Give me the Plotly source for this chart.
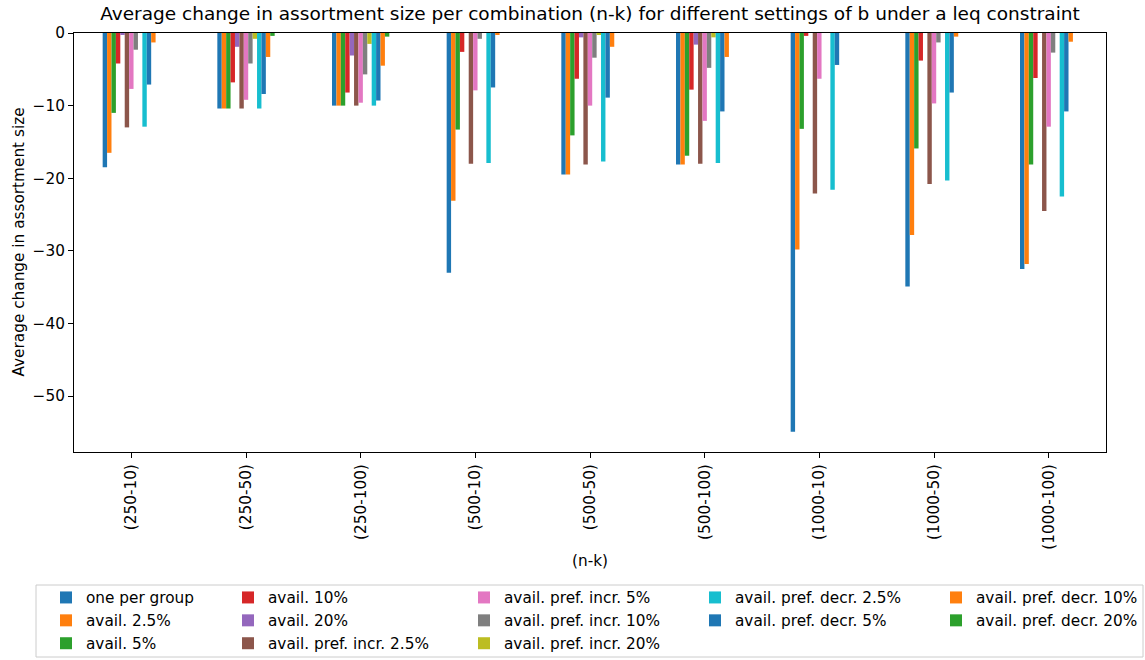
import plotly.graph_objects as go

categories = ["(250-10)", "(250-50)", "(250-100)", "(500-10)", "(500-50)",
              "(500-100)", "(1000-10)", "(1000-50)", "(1000-100)"]

series_names = ["one per group", "avail. 2.5%", "avail. 5%", "avail. 10%", "avail. 20%",
                "avail. pref. incr. 2.5%", "avail. pref. incr. 5%", "avail. pref. incr. 10%",
                "avail. pref. incr. 20%", "avail. pref. decr. 2.5%", "avail. pref. decr. 5%",
                "avail. pref. decr. 10%", "avail. pref. decr. 20%"]

one_per_group = [-18.5, -10.4, -10.0, -33.0, -19.5, -18.1, -54.9, -34.9, -32.5]
avail_2_5 = [-16.5, -10.4, -10.0, -23.1, -19.5, -18.1, -29.8, -27.8, -31.8]
avail_5 = [-11.0, -10.4, -10.0, -13.3, -14.1, -16.9, -13.2, -15.9, -18.1]
avail_10 = [-4.2, -6.8, -8.2, -2.6, -6.3, -7.8, -0.4, -3.8, -6.2]
avail_20 = [-0.2, -1.9, -3.1, 0.0, -0.6, -1.6, 0.0, 0.0, 0.0]
pref_incr_2_5 = [-13.0, -10.4, -10.0, -18.0, -18.1, -18.0, -22.1, -20.8, -24.5]
pref_incr_5 = [-7.7, -9.2, -9.6, -7.9, -10.0, -12.1, -6.3, -9.7, -12.9]
pref_incr_10 = [-2.3, -4.2, -5.7, -0.8, -3.4, -4.8, 0.0, -1.3, -2.7]
pref_incr_20 = [0.0, -0.8, -1.5, 0.0, -0.2, -0.6, 0.0, 0.0, 0.0]
pref_decr_2_5 = [-12.9, -10.4, -10.0, -17.9, -17.7, -17.9, -21.6, -20.3, -22.5]
pref_decr_5 = [-7.1, -8.4, -9.3, -7.5, -8.9, -10.8, -4.4, -8.2, -10.8]
pref_decr_10 = [-1.3, -3.3, -4.5, -0.2, -1.9, -3.3, 0.0, -0.5, -1.2]
pref_decr_20 = [0.0, -0.4, -0.5, 0.0, 0.0, 0.0, 0.0, 0.0, 0.0]

series_values = [one_per_group, avail_2_5, avail_5, avail_10, avail_20,
                 pref_incr_2_5, pref_incr_5, pref_incr_10, pref_incr_20,
                 pref_decr_2_5, pref_decr_5, pref_decr_10, pref_decr_20]

colors = ["#1f77b4", "#ff7f0e", "#2ca02c", "#d62728", "#9467bd", "#8c564b", "#e377c2",
          "#7f7f7f", "#bcbd22", "#17becf", "#1f77b4", "#ff7f0e", "#2ca02c"]

# legend column assignment (matplotlib column-major fill)
legend_cols = ["legend", "legend", "legend", "legend2", "legend2", "legend2",
               "legend3", "legend3", "legend3", "legend4", "legend4", "legend5", "legend5"]

W, H = 1145, 660
L, R, T, B = 74, 1106, 33, 452
FONT = "DejaVu Sans"
FS = 15.3


def px_x(p):
    return (p - L) / (R - L)


def px_y(p):
    return (B - p) / (B - T)


fig = go.Figure()
for i, (name, vals) in enumerate(zip(series_names, series_values)):
    fig.add_trace(go.Bar(x=categories, y=vals, name=name, marker_color=colors[i],
                         marker_line_width=0, legend=legend_cols[i],
                         legendgroup=name))

text_x = [86, 268, 504, 735, 976]
legend_top = 581
leg_common = dict(orientation="v", yanchor="top", xanchor="left",
                  font=dict(family=FONT, size=FS, color="#000000"),
                  bgcolor="rgba(0,0,0,0)", borderwidth=0, tracegroupgap=0,
                  itemclick=False)
legend_offset = 40
fig.update_layout(
    legend=dict(x=px_x(text_x[0] - legend_offset), y=px_y(legend_top), **leg_common),
    legend2=dict(x=px_x(text_x[1] - legend_offset), y=px_y(legend_top), **leg_common),
    legend3=dict(x=px_x(text_x[2] - legend_offset), y=px_y(legend_top), **leg_common),
    legend4=dict(x=px_x(text_x[3] - legend_offset), y=px_y(legend_top), **leg_common),
    legend5=dict(x=px_x(text_x[4] - legend_offset), y=px_y(legend_top), **leg_common),
)

fig.add_shape(type="rect", xref="paper", yref="paper",
              x0=px_x(36), x1=px_x(1143), y0=px_y(585), y1=px_y(657),
              line=dict(color="#cccccc", width=1), fillcolor="rgba(255,255,255,0.8)",
              layer="below")

fig.update_layout(
    width=W, height=H,
    margin=dict(l=L, r=W - R, t=T, b=H - B, autoexpand=False),
    paper_bgcolor="white", plot_bgcolor="white",
    barmode="group", bargap=0.5, bargroupgap=0,
    font=dict(family=FONT, size=FS, color="#000000"),
    showlegend=True,
    title=dict(text="Average change in assortment size per combination (n-k) for different settings of b under a leq constraint",
               xref="paper", x=px_x(590), xanchor="center",
               yref="container", y=1 - 14 / H, yanchor="middle",
               font=dict(family=FONT, size=18.5, color="#000000")),
    xaxis=dict(type="category", range=[-0.5, 8.5], tickangle=-90,
               showline=True, linecolor="#000000", linewidth=1.1, mirror=True,
               ticks="outside", ticklen=5, tickwidth=1.1, tickcolor="#000000",
               showgrid=False, zeroline=False,
               tickfont=dict(family=FONT, size=FS, color="#000000")),
    yaxis=dict(range=[-57.7, 0], tickvals=[0, -10, -20, -30, -40, -50],
               showline=True, linecolor="#000000", linewidth=1.1, mirror=True,
               ticks="outside", ticklen=5, tickwidth=1.1, tickcolor="#000000",
               showgrid=False, zeroline=False,
               tickfont=dict(family=FONT, size=FS, color="#000000")),
    annotations=[
        dict(text="(n-k)", xref="paper", yref="paper", x=px_x(590), y=px_y(561),
             xanchor="center", yanchor="middle", showarrow=False,
             font=dict(family=FONT, size=FS, color="#000000")),
        dict(text="Average change in assortment size", xref="paper", yref="paper",
             x=px_x(18), y=px_y(242.5), xanchor="center", yanchor="middle",
             textangle=-90, showarrow=False,
             font=dict(family=FONT, size=FS, color="#000000")),
    ],
)

fig.write_html("out.html")
